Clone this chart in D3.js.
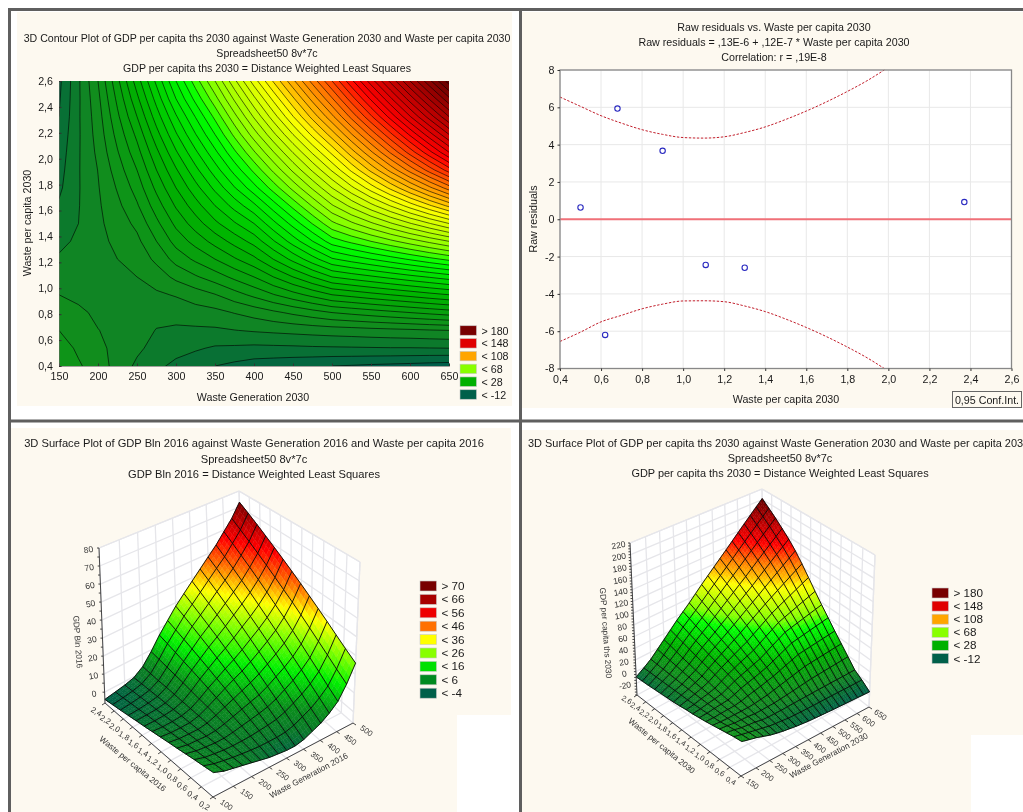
<!DOCTYPE html>
<html><head><meta charset="utf-8">
<script src="https://cdn.jsdelivr.net/npm/d3@7/dist/d3.min.js"></script>
<style>
html,body{margin:0;padding:0;background:#fff;overflow:hidden}
svg{display:block;filter:blur(0.4px)}
text{font-family:"Liberation Sans",Arial,sans-serif;fill:#1a1a1a}
</style></head><body>
<svg id="c" width="1023" height="812"></svg>
<script>
// ---------- DATA ----------
const titles1 = ["3D Contour Plot of GDP per capita ths 2030 against Waste Generation 2030 and Waste per capita 2030","Spreadsheet50 8v*7c","GDP per capita ths 2030 = Distance Weighted Least Squares"];
const titles2 = ["Raw residuals vs. Waste per capita 2030","Raw residuals = ,13E-6 + ,12E-7 * Waste per capita 2030","Correlation: r = ,19E-8"];
const titles3 = ["3D Surface Plot of GDP Bln 2016 against Waste Generation 2016 and Waste per capita 2016","Spreadsheet50 8v*7c","GDP Bln 2016 = Distance Weighted Least Squares"];
const titles4 = ["3D Surface Plot of GDP per capita ths 2030 against Waste Generation 2030 and Waste per capita 2030","Spreadsheet50 8v*7c","GDP per capita ths 2030 = Distance Weighted Least Squares"];

const waste2030 = [150,175,200,225,250,275,300,325,350,375,400,425,450,475,500,525,550,575,600,625,650];
const perCapita2030 = [0.4,0.5375,0.675,0.8125,0.95,1.0875,1.225,1.3625,1.5,1.6375,1.775,1.9125,2.05,2.1875,2.325,2.4625,2.6];
// one array per waste2030 value, one entry per perCapita2030 value
const gdpPerCapita2030 = [
[11.5,10,8,6,4,2,.5,-1,-2,-3.5,-4.8,-5.5,-6.2,-7,-8,-8.5,-9],
[8.5,7.3,6.5,4.8,3,2,1.3,.7,0,-.2,-.3,-.3,-.4,-.5,-.5,-.6,-.6],
[6,5,4.1,3.2,2.8,2.8,2.9,3,3.2,3.4,3.7,4.1,4.9,5.6,6.2,7,8],
[2.5,2.8,2.9,2.9,3,3.4,4,4.8,5.8,7,8.4,10,11.7,13.4,15.2,17,19],
[-.8,.8,2,2.6,3.1,4,5.3,7,9,11.5,13.7,16,18.5,21,24,27,30],
[-3.1,-1.4,-.2,1.5,3.4,5.8,9,12,15,18,21,24,27,30.5,34,37.5,41],
[-5,-2.6,-.8,1.8,4.3,9,13.5,17.5,21,24.5,28,31.5,35.5,39.5,43.5,48,52],
[-6.5,-3.5,-.7,2.3,6,11.5,16.8,21.5,26,30.2,34.5,38.8,43.2,47.8,52.2,57.2,62],
[-8,-4.5,-.6,2.8,7.8,14,20,25.5,31,36,41,46,51,56,61,66.5,72],
[-9,-4.7,-.1,4.2,10.4,17,23.5,29.5,35.5,41.5,47.7,53.5,59.2,65,70.7,76.7,83],
[-10,-5,.4,5.6,13,20,27,33.5,40,47,54.5,61,67.5,74,80.5,87,94],
[-10.5,-4.9,.8,7.2,15.8,24,32.1,39.6,46.8,54.1,61.8,68.9,75.8,83,90.1,97.1,104.5],
[-11,-4.8,1.2,8.8,18.5,28,37.2,45.8,53.5,61.2,69.2,76.8,84.2,92,99.8,107.2,115],
[-11.5,-4.6,1.6,10.4,21.2,32,42.4,51.9,60.2,68.4,76.6,84.6,92.6,101,109.4,117.4,125.5],
[-12,-4.5,2,12,24,36,47.5,58,67,75.5,84,92.5,101,110,119,127.5,136],
[-12.3,-4.4,2.3,13,25.3,37.7,49.8,61,71.2,81.1,91,100.8,110.2,119.7,129.2,138.1,147],
[-12.7,-4.3,2.7,14,26.7,39.3,52,64,75.3,86.7,98,109,119.3,129.3,139.3,148.7,158],
[-13,-4.2,3,15,28,41,54.2,67,79.5,92.2,105,117.2,128.5,139,149.5,159.2,169],
[-13.3,-4.2,3.3,16,29.3,42.7,56.5,70,83.7,97.8,112,125.5,137.7,148.7,159.7,169.8,180],
[-13.7,-4.1,3.7,17,30.7,44.3,58.8,73,87.8,103.4,119,133.8,146.8,158.3,169.8,180.4,191],
[-14,-4,4,18,32,46,61,76,92,109,126,142,156,168,180,191,202]
];

const waste2016 = [100,125,150,175,200,225,250,275,300,325,350,375,400,425,450,475,500];
const perCapita2016 = [0.2,0.369,0.538,0.708,0.877,1.046,1.215,1.385,1.554,1.723,1.892,2.062,2.231,2.4];
// one array per waste2016 value, one entry per perCapita2016 value
const gdpBln2016 = [
[6,5.2,4.5,3.7,2.9,2.2,1.4,.6,-.2,-.9,-1.7,-2.5,-3.2,-4],
[4,3.5,2.9,2.4,1.8,1.3,.8,.2,-.3,-.8,-1.4,-1.9,-2.5,-3],
[3,2.6,2.2,1.8,1.5,1.1,.7,.3,-.1,-.5,-.8,-1.2,-1.6,-2],
[2,1.8,1.6,1.4,1.2,1,.8,.7,.5,.3,.1,-.1,-.3,-.5],
[1,1.2,1.4,1.4,1.6,1.8,2,2.1,2.2,2.4,2.6,2.6,2.8,3],
[0,.7,1.4,2.1,2.7,3.5,4.2,4.8,5.5,6.3,6.9,7.6,8.3,9],
[-1,.3,1.6,3,4.2,5.5,6.8,8.2,9.5,10.8,12,13.4,14.7,16],
[-1.5,.3,2.1,3.9,5.7,7.5,9.4,11.1,13,14.8,16.6,18.4,20.2,22],
[-2,.3,2.6,4.9,7.2,9.5,11.9,14.1,16.5,18.8,21.1,23.4,25.7,28],
[-2,.7,3.4,6.1,8.7,11.5,14.2,16.8,19.5,22.3,24.9,27.6,30.3,33],
[-1,2,5,8,11,14,17,20,23,26,29,32,35,38],
[1,4.2,7.4,10.7,13.9,17.1,20.3,23.6,26.9,30.1,33.3,36.6,39.8,43],
[3,6.4,10,13.4,16.8,20.4,23.8,27.2,30.6,34.2,37.6,41,44.6,48],
[6,9.7,13.2,16.9,20.4,24.1,27.7,31.3,34.9,38.6,42.1,45.8,49.3,53],
[10,13.8,17.6,21.3,25.1,28.9,32.7,36.3,40.1,43.9,47.7,51.4,55.2,59],
[17,20.7,24.4,28.1,31.8,35.5,39.2,42.8,46.5,50.2,53.9,57.6,61.3,65],
[26,29.6,33.2,36.9,40.5,44.1,47.7,51.3,54.9,58.5,62.1,65.8,69.4,73]
];

const residualX = [0.5,0.62,0.68,0.9,1.11,1.3,2.37];
const residualY = [0.63,-6.2,5.93,3.67,-2.45,-2.6,0.92];
const ciX = [0.4,0.5,0.6,0.7,0.8,0.9,1.0,1.1,1.2,1.3,1.4,1.5,1.6,1.7,1.8,1.9,1.98];
const ciUpper = [6.55,6.05,5.55,5.15,4.8,4.55,4.38,4.35,4.42,4.65,4.95,5.35,5.8,6.3,6.85,7.45,8];
const ciLower = [-6.55,-6.05,-5.5,-5.15,-4.8,-4.55,-4.38,-4.37,-4.42,-4.65,-4.95,-5.35,-5.8,-6.3,-6.85,-7.45,-8];

const contourLevels = d3.range(-12,204,4);
const stops2030 = [-14,-4,4,28,57,68,85,100,110,125,148,180,205];
const colors2030 = ['#005f4a','#0a7430','#128a20','#00b000','#00ff00','#80ff00','#c8ff00','#ffff00','#ffc000','#ff8000','#ff0000','#a80000','#5a0000'];
const stops2016 = [-4,1,6,16,26,36,46,56,66,74];
const colors2016 = ['#005f4a','#0a7a28','#0a8e1c','#00f000','#80ff00','#ffff00','#ff7000','#ff0000','#b00000','#700000'];
const legend2030Labels = ["> 180","< 148","< 108","< 68","< 28","< -12"];
const legend2030Colors = ['#780000','#e00000','#ffa500','#88ff00','#00b000','#00604a'];
const legend2016Labels = ["> 70","< 66","< 56","< 46","< 36","< 26","< 16","< 6","< -4"];
const legend2016Colors = ['#780000','#a80000','#ee0000','#ff7000','#ffff00','#88ff00','#00e000','#008a20','#00604a'];

// ---------- PAGE FRAME ----------
const svg = d3.select("#c");
const cream = "#fdf9f0", frame = "#5f5f5f";
[[17,12,495,394],[522,12,501,396],[11,428,500,384],[522,430,501,382]].forEach(r=>
  svg.append("rect").attr("x",r[0]).attr("y",r[1]).attr("width",r[2]).attr("height",r[3]).attr("fill",cream));
[[457,715,54,97],[971,735,52,77]].forEach(r=>
  svg.append("rect").attr("x",r[0]).attr("y",r[1]).attr("width",r[2]).attr("height",r[3]).attr("fill","#fff"));
[[8,9.5,1023,9.5],[8,421,1023,421],[9.5,9.5,9.5,812],[520.5,9.5,520.5,812]].forEach(l=>
  svg.append("line").attr("x1",l[0]).attr("y1",l[1]).attr("x2",l[2]).attr("y2",l[3]).attr("stroke",frame).attr("stroke-width",3));

function titleBlock(lines,cx,ys,fs){
  lines.forEach((t,i)=>svg.append("text").attr("x",cx).attr("y",ys[i]).attr("text-anchor","middle").attr("font-size",fs).text(t));
}
function legend(labels,colors,x,y0,dy,fs,h){
  labels.forEach((t,i)=>{
    svg.append("rect").attr("x",x).attr("y",y0+i*dy-h/2).attr("width",16.5).attr("height",h).attr("fill",colors[i]).attr("stroke","#c8c8c8").attr("stroke-width",.6);
    svg.append("text").attr("x",x+21.5).attr("y",y0+i*dy+4).attr("font-size",fs).text(t);
  });
}
const comma1 = d3.formatLocale({decimal:",",thousands:"",grouping:[3],currency:["",""]}).format(".1f");

// ---------- PANEL 1: CONTOUR ----------
titleBlock(titles1,267,[42,57,71.5],10.6);
const px = d3.scaleLinear().domain([150,650]).range([59,449]);
const py = d3.scaleLinear().domain([0.4,2.6]).range([366,81]);
const color2030 = d3.scaleLinear().domain(stops2030).range(colors2030).clamp(true);
const nW = waste2030.length, nP = perCapita2030.length;
const flat = [];
for(let j=0;j<nP;j++) for(let i=0;i<nW;i++) flat.push(gdpPerCapita2030[i][j]);
const stepW = waste2030[1]-waste2030[0], stepP = perCapita2030[1]-perCapita2030[0];
const gridPath = d3.geoPath(d3.geoTransform({point(x,y){
  this.stream.point(px(waste2030[0]+(x-.5)*stepW), py(perCapita2030[0]+(y-.5)*stepP));
}}));
svg.append("clipPath").attr("id","plotClip").append("rect").attr("x",59).attr("y",81).attr("width",390).attr("height",285);
const g1 = svg.append("g").attr("clip-path","url(#plotClip)");
g1.append("rect").attr("x",59).attr("y",81).attr("width",390).attr("height",285).attr("fill",color2030(-14));
const contourGen = d3.contours().size([nW,nP]);
const fills = contourGen.thresholds(contourLevels)(flat);
g1.selectAll("path.f").data(fills).join("path").attr("class","f").attr("d",gridPath)
  .attr("fill",d=>color2030(d.value+2));
g1.selectAll("path.l").data(fills).join("path").attr("class","l").attr("d",gridPath)
  .attr("fill","none").attr("stroke","#000").attr("stroke-width",.8).attr("stroke-opacity",.75);
const ax1 = svg.append("g").attr("transform","translate(0,366)").call(d3.axisBottom(px).tickValues(d3.range(150,651,50)).tickSize(-2.5).tickPadding(6));
const ay1 = svg.append("g").attr("transform","translate(59,0)").call(d3.axisLeft(py).tickValues(d3.range(.4,2.61,.2)).tickSize(-2.5).tickPadding(6).tickFormat(comma1));
[ax1,ay1].forEach(a=>{a.selectAll("text").attr("font-size",10.7).attr("font-family",'"Liberation Sans"').attr("fill","#1a1a1a");a.select(".domain").attr("stroke","#666").attr("stroke-opacity",.6);a.selectAll("line").attr("stroke","#333")});
svg.append("text").attr("x",253).attr("y",400.5).attr("text-anchor","middle").attr("font-size",10.7).text("Waste Generation 2030");
svg.append("text").attr("transform","translate(31,223) rotate(-90)").attr("text-anchor","middle").attr("font-size",10.7).text("Waste per capita 2030");
legend(legend2030Labels,legend2030Colors,460,330.5,12.8,10.7,9.5);

// ---------- PANEL 2: RESIDUALS ----------
titleBlock(titles2,774,[31,46,60.5],10.7);
const rx = d3.scaleLinear().domain([0.4,2.6]).range([560,1011.5]);
const ry = d3.scaleLinear().domain([-8,8]).range([368.5,70]);
svg.append("rect").attr("x",560).attr("y",70).attr("width",451.5).attr("height",298.5).attr("fill","#fff");
const g2 = svg.append("g");
const xt2 = d3.range(.4,2.61,.2), yt2 = d3.range(-8,9,2);
g2.selectAll("line.v").data(xt2).join("line").attr("x1",d=>rx(d)).attr("x2",d=>rx(d)).attr("y1",70).attr("y2",368.5).attr("stroke","#e8e8e8").attr("stroke-width",1);
g2.selectAll("line.h").data(yt2).join("line").attr("y1",d=>ry(d)).attr("y2",d=>ry(d)).attr("x1",560).attr("x2",1011.5).attr("stroke","#e8e8e8").attr("stroke-width",1);
svg.append("line").attr("x1",560).attr("x2",1011.5).attr("y1",ry(0)).attr("y2",ry(0)).attr("stroke","#f07078").attr("stroke-width",1.8);
const ciLine = d3.line().x((d,i)=>rx(ciX[i])).y(d=>ry(d)).curve(d3.curveMonotoneX);
[ciUpper,ciLower].forEach(s=>svg.append("path").attr("d",ciLine(s)).attr("fill","none").attr("stroke","#c21f2c").attr("stroke-width",1).attr("stroke-dasharray","2.4,1.6"));
svg.selectAll("circle.r").data(residualX).join("circle").attr("class","r").attr("cx",d=>rx(d)).attr("cy",(d,i)=>ry(residualY[i])).attr("r",2.7).attr("fill","#fff").attr("fill-opacity",.6).attr("stroke","#2a2ac0").attr("stroke-width",1.1);
svg.append("rect").attr("x",560).attr("y",70).attr("width",451.5).attr("height",298.5).attr("fill","none").attr("stroke","#888").attr("stroke-width",1.3);
const ax2 = svg.append("g").attr("transform","translate(0,368.5)").call(d3.axisBottom(rx).tickValues(xt2).tickSize(2.5).tickPadding(4).tickFormat(comma1));
const ay2 = svg.append("g").attr("transform","translate(560,0)").call(d3.axisLeft(ry).tickValues(yt2).tickSize(2.5).tickPadding(3).tickFormat(d=>String(d)));
[ax2,ay2].forEach(a=>{a.selectAll("text").attr("font-size",10.7).attr("font-family",'"Liberation Sans"').attr("fill","#1a1a1a");a.select(".domain").remove();a.selectAll("line").attr("stroke","#333")});
svg.append("text").attr("x",786).attr("y",403).attr("text-anchor","middle").attr("font-size",10.7).text("Waste per capita 2030");
svg.append("text").attr("transform","translate(537,219) rotate(-90)").attr("text-anchor","middle").attr("font-size",10.7).text("Raw residuals");
svg.append("rect").attr("x",952.5).attr("y",391.5).attr("width",69).attr("height",16).attr("fill",cream).attr("stroke","#666").attr("stroke-width",1);
svg.append("text").attr("x",987).attr("y",403.5).attr("text-anchor","middle").attr("font-size",10.7).text("0,95 Conf.Int.");

// ---------- 3D SURFACES ----------
function lerp(a,b,t){return [a[0]+(b[0]-a[0])*t,a[1]+(b[1]-a[1])*t];}
function surface3D(c){
  const g = svg.append("g");
  const W0=c.W[0], W1=c.W[c.W.length-1], P0=c.P[0], P1=c.P[c.P.length-1];
  const us=d3.scalePow().exponent(c.pow).domain([0,W1-W0]).range([0,1]);
  const vs=d3.scalePow().exponent(c.pow).domain([0,P1-P0]).range([0,1]);
  const ts=d3.scaleLinear().domain(c.zDomain).range([0,1]);
  const proj=(w,p,z)=>{
    const u=us(w-W0), v=vs(p-P0), t=ts(z);
    const fl=lerp(lerp(c.F,c.R,u),lerp(c.L,c.B,u),v);
    const tp=lerp(lerp(c.FT,c.RT,u),lerp(c.LT,c.BT,u),v);
    return lerp(fl,tp,t);
  };
  const zb=c.zDomain[0], zt=c.zDomain[1];
  const poly=d3.line();
  [[c.F,c.R,c.B,c.L],[c.L,c.B,c.BT,c.LT],[c.R,c.B,c.BT,c.RT]].forEach(q=>
    g.append("path").attr("d",poly(q)+"Z").attr("fill","#fff"));
  const grid=(a,b)=>g.append("path").attr("d",poly([a,b])).attr("stroke","#e6e6ea").attr("stroke-width",1.3).attr("fill","none");
  c.wTicks.forEach(w=>{grid(proj(w,P0,zb),proj(w,P1,zb));grid(proj(w,P1,zb),proj(w,P1,zt));});
  c.pTicks.forEach(p=>{grid(proj(W0,p,zb),proj(W1,p,zb));grid(proj(W1,p,zb),proj(W1,p,zt));});
  c.zTicks.forEach(z=>{grid(proj(W0,P1,z),proj(W1,P1,z));grid(proj(W1,P1,z),proj(W1,P0,z));});
  grid(c.LT,c.BT);grid(c.BT,c.RT);grid(c.RT,c.R);
  const sub=3, cells=[];
  for(let i=c.W.length-2;i>=0;i--) for(let j=c.P.length-2;j>=0;j--){
    const z00=c.Z[i][j],z10=c.Z[i+1][j],z01=c.Z[i][j+1],z11=c.Z[i+1][j+1];
    const zAt=(a,b)=>z00*(1-a)*(1-b)+z10*a*(1-b)+z01*(1-a)*b+z11*a*b;
    const pt=(a,b)=>proj(c.W[i]+(c.W[i+1]-c.W[i])*a,c.P[j]+(c.P[j+1]-c.P[j])*b,zAt(a,b));
    for(let a=sub-1;a>=0;a--) for(let b=sub-1;b>=0;b--){
      const a0=a/sub,a1=(a+1)/sub,b0=b/sub,b1=(b+1)/sub;
      cells.push({d:poly([pt(a0,b0),pt(a1,b0),pt(a1,b1),pt(a0,b1)])+"Z",col:c.color(zAt((a0+a1)/2,(b0+b1)/2))});
    }
  }
  g.selectAll("path.q").data(cells).join("path").attr("class","q").attr("d",d=>d.d).attr("fill",d=>d.col).attr("stroke",d=>d.col).attr("stroke-width",.45);
  const mesh=g.append("g").attr("fill","none").attr("stroke","#080808").attr("stroke-width",1).attr("stroke-opacity",.9).attr("stroke-linejoin","round");
  c.W.forEach((w,i)=>mesh.append("path").attr("d",poly(c.P.map((p,j)=>proj(w,p,c.Z[i][j])))));
  c.P.forEach((p,j)=>mesh.append("path").attr("d",poly(c.W.map((w,i)=>proj(w,p,c.Z[i][j])))));
  const axis=g.append("g").attr("stroke","#333").attr("stroke-width",.9).attr("fill","none");
  [[c.L,c.LT],[c.L,c.F],[c.F,c.R]].forEach(s=>axis.append("path").attr("d",poly(s)));
  const txt=(pos,t,fs,rot)=>svg.append("text").attr("transform",`translate(${pos[0]},${pos[1]}) rotate(${rot})`).attr("text-anchor","middle").attr("font-size",fs).style("fill","#333").text(t);
  c.zMinor.forEach(z=>{const q=proj(W0,P1,z);axis.append("path").attr("d",poly([q,[q[0]-2,q[1]]]));});
  c.zTicks.forEach(z=>{const q=proj(W0,P1,z);txt([q[0]+c.zOff[0],q[1]+c.zOff[1]+3],String(z),8.5,-10);});
  c.pTicks.forEach(p=>{const q=proj(W0,p,zb);axis.append("path").attr("d",poly([q,[q[0]-3,q[1]+2]]));txt([q[0]+c.pOff[0],q[1]+c.pOff[1]+3],comma1(p),c.pFont,30);});
  c.wTicks.forEach(w=>{const q=proj(w,P0,zb);axis.append("path").attr("d",poly([q,[q[0]+3,q[1]+2]]));txt([q[0]+c.wOff[0],q[1]+c.wOff[1]+3],String(w),8,35);});
  txt(c.zTitle[0],c.zTitle[1],8.3,86);
  txt(c.pTitle[0],c.pTitle[1],8.3,39);
  txt(c.wTitle[0],c.wTitle[1],8.3,-28);
}

titleBlock(titles3,254,[447,462.5,478],11.15);
surface3D({W:waste2016,P:perCapita2016,Z:gdpBln2016,zDomain:[-6,80],pow:.93,pFont:8,
  F:[213,797],L:[105,703],R:[353,723],B:[244,628],FT:[216,622],LT:[99,548],RT:[360,562],BT:[239,491],
  wTicks:d3.range(100,501,50),pTicks:d3.range(.2,2.41,.2),zTicks:d3.range(0,81,10),zMinor:d3.range(0,81,5),
  zOff:[-10,1.5],pOff:[-10,8],wOff:[12,7],
  color:d3.scaleLinear().domain(stops2016).range(colors2016).clamp(true),
  zTitle:[[75,642],"GDP Bln 2016"],pTitle:[[131,766],"Waste per capita  2016"],wTitle:[[310,778],"Waste Generation  2016"]});
legend(legend2016Labels,legend2016Colors,420,586,13.4,11.7,10);

svg.append("text").attr("x",528).attr("y",447).attr("font-size",10.95).text(titles4[0]);
titleBlock(titles4.slice(1),780,[462,477],10.95);
surface3D({W:waste2030,P:perCapita2030,Z:gdpPerCapita2030,zDomain:[-40,220],pow:.93,pFont:7.5,
  F:[741,776],L:[637,695],R:[869,707],B:[765,626],FT:[745,602],LT:[630,543],RT:[875,555],BT:[762,489],
  wTicks:d3.range(150,651,50),pTicks:d3.range(.4,2.61,.2),zTicks:d3.range(-20,221,20),zMinor:d3.range(-40,221,5),
  zOff:[-11,2],pOff:[-11.5,4],wOff:[10,7],
  color:color2030,
  zTitle:[[603,633],"GDP per capita  ths 2030"],pTitle:[[660,748],"Waste per capita  2030"],wTitle:[[830,758],"Waste Generation  2030"]});
legend(legend2030Labels,legend2030Colors,932,593,13.1,11.7,10);
</script>
</body></html>
